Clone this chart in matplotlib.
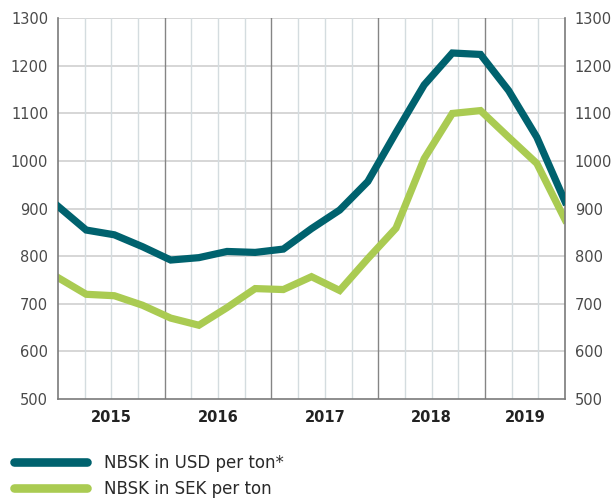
import numpy as np
import matplotlib
matplotlib.use("Agg")
import matplotlib.pyplot as plt

# ---------- data (quarterly, Q1 2015 - Q3 2019) ----------
usd = [905, 855, 845, 820, 792, 797, 810, 808, 815, 858,
       897, 957, 1060, 1160, 1227, 1224, 1148, 1050, 915]
sek = [755, 720, 717, 697, 670, 655, 692, 732, 730, 757,
       728, 795, 859, 1005, 1100, 1106, 1050, 995, 877]
years = ["2015", "2016", "2017", "2018", "2019"]
year_quarters = [4, 4, 4, 4, 3]   # grid cells per year label
n_cells = 19

usd_color = "#00626E"
sek_color = "#AACB52"

plt.rcParams['font.family'] = 'DejaVu Sans'

fig = plt.figure(figsize=(6.16, 4.99), dpi=100)
ax = fig.add_axes([0.0942, 0.2004, 0.8230, 0.7630])

x = np.arange(len(usd))
ax.set_xlim(0, len(usd) - 1)
ax.set_ylim(500, 1300)

# grid
step = (len(usd) - 1) / n_cells
for y in range(600, 1301, 100):
    ax.axhline(y, color="#CFCFCF", lw=1.2, zorder=1)
bounds = np.cumsum(year_quarters)[:-1]
for k in range(1, n_cells):
    if k in bounds:
        ax.axvline(k * step, color="#858585", lw=1.0, zorder=1)
    else:
        ax.axvline(k * step, color="#D4DCDF", lw=1.0, zorder=1)

ax.plot(x, usd, color=usd_color, lw=5.2, solid_joinstyle='miter', zorder=3,
        label="NBSK in USD per ton*")
ax.plot(x, sek, color=sek_color, lw=5.2, solid_joinstyle='miter', zorder=2,
        label="NBSK in SEK per ton")

# axes styling
for s in ["left", "right", "bottom"]:
    ax.spines[s].set_color("#7A7A7A")
    ax.spines[s].set_linewidth(1.2)
ax.spines["top"].set_visible(False)

ax.set_yticks(range(500, 1301, 100))
ax.tick_params(axis="y", length=0, pad=7, labelsize=10.5, labelcolor="#4A4A4A",
               left=True, right=True, labelleft=True, labelright=True)

starts = np.concatenate([[0], np.cumsum(year_quarters)[:-1]])
centers = (starts + np.array(year_quarters) / 2) * step
ax.set_xticks(centers)
ax.set_xticklabels(years, fontsize=10.5, fontweight="bold", color="#222222")
ax.tick_params(axis="x", length=0, pad=8)

leg = fig.legend(loc="upper left", bbox_to_anchor=(0.012, 0.103), frameon=False,
                 fontsize=12, handlelength=4.4, handletextpad=1.0,
                 labelspacing=0.45, borderaxespad=0)
for line in leg.get_lines():
    line.set_linewidth(6.2)
    line.set_solid_capstyle("round")
for t in leg.get_texts():
    t.set_color("#2A2A2A")

fig.savefig("out.png", dpi=100)
